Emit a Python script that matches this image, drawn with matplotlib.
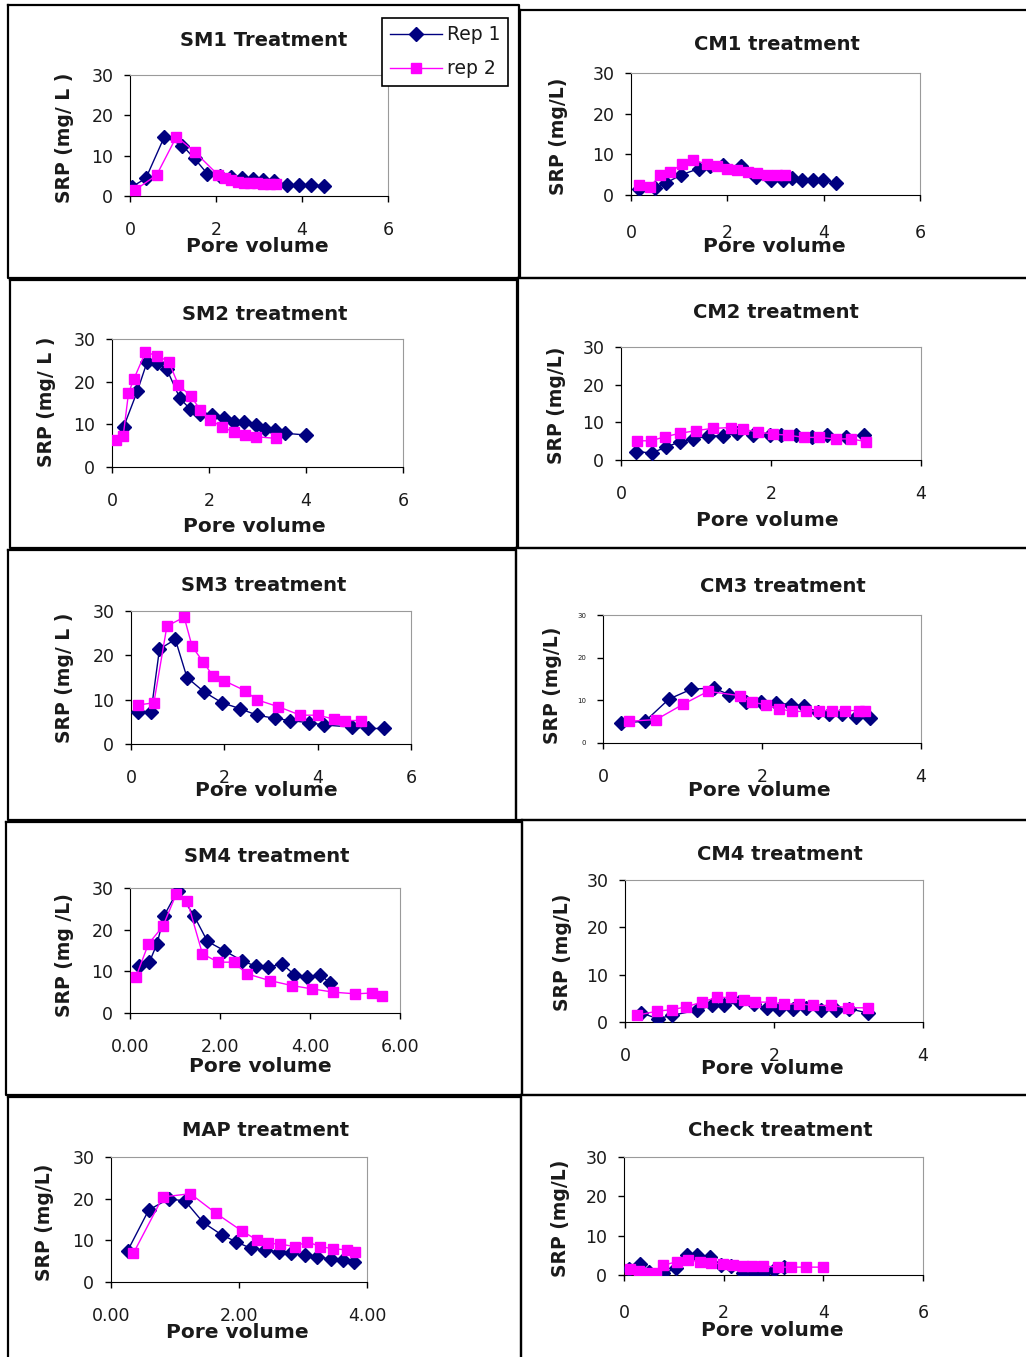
#!usr/bin/python
"""
SRP breakthrough curves, ten treatments, two reps each
"""
import matplotlib
matplotlib.use('Agg')
import matplotlib.pyplot as plt
from matplotlib.lines import Line2D

plt.rcParams['font.family'] = ['DejaVu Sans']

W, H = 1026, 1357
NAVY = '#000080'
PINK = '#ff00ff'

# ---- data (pore volume, SRP mg/L) ----
sm1_rep1_x = [0.05, 0.37, 0.8, 1.22, 1.5, 1.8, 2.1, 2.35, 2.6, 2.85, 3.1, 3.35, 3.64, 3.93, 4.2, 4.5]
sm1_rep1_y = [2.3, 4.4, 14.7, 12.5, 9.3, 5.5, 5.0, 4.6, 4.5, 4.2, 4.0, 3.8, 2.8, 2.8, 2.8, 2.5]
sm1_rep2_x = [0.12, 0.62, 1.08, 1.5, 2.05, 2.2, 2.35, 2.5, 2.65, 2.8, 2.95, 3.1, 3.25, 3.4]
sm1_rep2_y = [1.5, 5.2, 14.7, 11.0, 5.2, 4.5, 4.0, 3.5, 3.3, 3.2, 3.1, 3.0, 3.0, 3.0]

cm1_rep1_x = [0.16, 0.5, 0.72, 1.03, 1.41, 1.65, 1.9, 2.28, 2.6, 2.9, 3.15, 3.35, 3.56, 3.77, 3.98, 4.26]
cm1_rep1_y = [1.5, 1.6, 2.9, 4.9, 6.5, 7.2, 7.4, 7.1, 4.5, 3.7, 3.7, 4.1, 3.7, 3.7, 3.7, 3.0]
cm1_rep2_x = [0.16, 0.39, 0.61, 0.82, 1.06, 1.29, 1.58, 1.79, 2.0, 2.2, 2.42, 2.62, 2.83, 3.04, 3.2]
cm1_rep2_y = [2.5, 2.0, 4.9, 5.7, 7.6, 8.6, 7.6, 7.1, 6.5, 6.1, 5.7, 5.3, 4.9, 4.9, 4.9]

sm2_rep1_x = [0.24, 0.52, 0.72, 0.93, 1.13, 1.4, 1.6, 1.82, 2.06, 2.3, 2.51, 2.72, 2.96, 3.16, 3.37, 3.57, 4.0]
sm2_rep1_y = [9.4, 17.7, 24.5, 24.4, 22.9, 16.1, 13.7, 12.5, 12.2, 11.4, 10.6, 10.6, 9.8, 9.0, 8.6, 7.9, 7.5]
sm2_rep2_x = [0.09, 0.23, 0.34, 0.45, 0.69, 0.93, 1.17, 1.37, 1.62, 1.82, 2.03, 2.27, 2.51, 2.75, 2.96, 3.39]
sm2_rep2_y = [6.4, 7.2, 17.3, 20.6, 26.9, 26.1, 24.7, 19.2, 16.7, 13.4, 11.0, 9.4, 8.2, 7.5, 7.1, 6.7]

cm2_rep1_x = [0.2, 0.41, 0.6, 0.79, 0.96, 1.16, 1.36, 1.54, 1.76, 1.98, 2.13, 2.33, 2.55, 2.75, 3.0, 3.24]
cm2_rep1_y = [2.2, 1.9, 3.4, 4.9, 5.5, 6.4, 6.4, 7.1, 6.6, 6.6, 6.6, 6.6, 6.2, 6.6, 6.2, 6.6]
cm2_rep2_x = [0.21, 0.4, 0.59, 0.79, 1.0, 1.22, 1.46, 1.63, 1.82, 2.02, 2.22, 2.44, 2.64, 2.86, 3.06, 3.27]
cm2_rep2_y = [5.1, 5.1, 6.2, 7.1, 7.8, 8.4, 8.6, 8.1, 7.5, 6.9, 6.6, 6.0, 6.0, 5.6, 5.6, 4.9]

sm3_rep1_x = [0.16, 0.43, 0.61, 0.95, 1.2, 1.56, 1.95, 2.33, 2.7, 3.08, 3.41, 3.81, 4.14, 4.74, 5.08, 5.43]
sm3_rep1_y = [7.3, 7.3, 21.4, 23.6, 15.0, 11.8, 9.3, 8.0, 6.5, 5.8, 5.3, 4.8, 4.3, 3.8, 3.5, 3.5]
sm3_rep2_x = [0.16, 0.49, 0.77, 1.14, 1.31, 1.54, 1.76, 1.99, 2.45, 2.69, 3.16, 3.63, 4.0, 4.36, 4.59, 4.93]
sm3_rep2_y = [8.8, 9.3, 26.6, 28.6, 22.0, 18.6, 15.3, 14.3, 12.0, 10.0, 8.4, 6.5, 6.5, 5.6, 5.3, 5.3]

cm3_rep1_x = [0.23, 0.53, 0.83, 1.11, 1.39, 1.59, 1.8, 1.99, 2.18, 2.36, 2.53, 2.7, 2.84, 3.0, 3.18, 3.36]
cm3_rep1_y = [4.7, 5.1, 10.3, 12.6, 12.9, 11.3, 9.7, 9.7, 9.4, 9.0, 8.7, 7.2, 6.9, 6.9, 6.2, 5.8]
cm3_rep2_x = [0.33, 0.67, 1.01, 1.32, 1.72, 1.88, 2.05, 2.22, 2.38, 2.55, 2.72, 2.88, 3.05, 3.22, 3.3]
cm3_rep2_y = [5.1, 5.5, 9.1, 12.1, 11.1, 9.5, 9.0, 8.0, 7.4, 7.4, 7.6, 7.6, 7.6, 7.6, 7.4]

sm4_rep1_x = [0.21, 0.43, 0.6, 0.76, 1.06, 1.42, 1.72, 2.09, 2.48, 2.8, 3.07, 3.38, 3.65, 3.93, 4.22, 4.45]
sm4_rep1_y = [11.4, 12.2, 16.6, 23.4, 29.4, 23.4, 17.2, 15.0, 12.6, 11.2, 11.0, 11.8, 9.2, 8.6, 9.2, 7.2]
sm4_rep2_x = [0.13, 0.41, 0.73, 1.03, 1.27, 1.61, 1.96, 2.3, 2.6, 3.1, 3.59, 4.04, 4.52, 5.01, 5.38, 5.61]
sm4_rep2_y = [8.6, 16.6, 20.8, 28.6, 27.0, 14.2, 12.2, 12.2, 9.4, 7.8, 6.6, 5.8, 5.0, 4.6, 4.8, 4.2]

cm4_rep1_x = [0.22, 0.44, 0.63, 0.97, 1.17, 1.33, 1.53, 1.73, 1.91, 2.07, 2.25, 2.43, 2.63, 2.83, 3.01, 3.26]
cm4_rep1_y = [1.9, 0.7, 1.4, 2.5, 3.5, 3.5, 4.2, 3.7, 3.0, 2.8, 2.8, 3.0, 2.6, 2.6, 2.8, 1.9]
cm4_rep2_x = [0.16, 0.43, 0.63, 0.82, 1.03, 1.23, 1.42, 1.6, 1.75, 1.96, 2.13, 2.34, 2.52, 2.76, 2.99, 3.26]
cm4_rep2_y = [1.4, 2.3, 2.6, 3.2, 4.2, 5.2, 5.2, 4.6, 4.2, 4.2, 3.7, 3.9, 3.5, 3.5, 3.0, 3.0]

map_rep1_x = [0.26, 0.59, 0.91, 1.16, 1.44, 1.73, 1.95, 2.18, 2.41, 2.63, 2.81, 3.03, 3.22, 3.44, 3.63, 3.79]
map_rep1_y = [7.5, 17.3, 20.0, 19.4, 14.3, 11.3, 9.7, 8.1, 7.7, 7.2, 6.9, 6.5, 5.9, 5.6, 5.3, 4.8]
map_rep2_x = [0.35, 0.81, 1.24, 1.64, 2.04, 2.28, 2.46, 2.64, 2.87, 3.07, 3.26, 3.47, 3.68, 3.81]
map_rep2_y = [6.9, 20.4, 21.2, 16.5, 12.3, 10.1, 9.3, 9.1, 8.5, 9.7, 8.5, 8.0, 7.7, 7.3]

chk_rep1_x = [0.1, 0.32, 0.5, 0.62, 0.79, 1.05, 1.27, 1.47, 1.72, 1.95, 2.15, 2.39, 2.6, 2.79, 3.0, 3.22]
chk_rep1_y = [1.5, 2.8, 0.8, 0.0, 0.4, 1.7, 5.1, 5.1, 4.7, 2.5, 2.2, 0.4, 0.8, 0.6, 1.2, 2.0]
chk_rep2_x = [0.12, 0.31, 0.45, 0.64, 0.79, 1.07, 1.29, 1.52, 1.75, 1.99, 2.19, 2.39, 2.57, 2.79, 3.09, 3.35, 3.65, 3.99]
chk_rep2_y = [1.4, 1.1, 0.6, 0.6, 2.5, 3.4, 3.8, 3.4, 3.1, 2.8, 2.5, 2.3, 2.3, 2.3, 2.0, 2.0, 2.0, 2.0]

y_ticks = [0, 10, 20, 30]

# ---- layout in pixels: plot box (l, r, t, b), title, xlabel, ylabel centres ----
panels = [
    dict(title='SM1 Treatment', ylabel='SRP (mg/ L )', xmax=6, xfmt='{:g}',
         box=(130, 388, 75, 196), t=(264, 40), xl=(257, 247), yl=(65, 138),
         r1=(sm1_rep1_x, sm1_rep1_y), r2=(sm1_rep2_x, sm1_rep2_y)),
    dict(title='CM1 treatment', ylabel='SRP (mg/L)', xmax=6, xfmt='{:g}',
         box=(631, 920, 73, 195), t=(777, 44), xl=(774, 247), yl=(558, 136), xpad=17,
         r1=(cm1_rep1_x, cm1_rep1_y), r2=(cm1_rep2_x, cm1_rep2_y)),
    dict(title='SM2 treatment', ylabel='SRP (mg/ L )', xmax=6, xfmt='{:g}',
         box=(112, 403, 339, 467), t=(265, 314), xl=(254, 526), yl=(47, 402),
         r1=(sm2_rep1_x, sm2_rep1_y), r2=(sm2_rep2_x, sm2_rep2_y)),
    dict(title='CM2 treatment', ylabel='SRP (mg/L)', xmax=4, xfmt='{:g}',
         box=(621, 921, 347, 460), t=(776, 312), xl=(767, 520), yl=(557, 405),
         r1=(cm2_rep1_x, cm2_rep1_y), r2=(cm2_rep2_x, cm2_rep2_y)),
    dict(title='SM3 treatment', ylabel='SRP (mg/ L )', xmax=6, xfmt='{:g}',
         box=(131, 411, 611, 744), t=(264, 586), xl=(266, 790), yl=(65, 678),
         r1=(sm3_rep1_x, sm3_rep1_y), r2=(sm3_rep2_x, sm3_rep2_y)),
    dict(title='CM3 treatment', ylabel='SRP (mg/L)', xmax=4, xfmt='{:g}',
         box=(603, 921, 615, 743), t=(783, 587), xl=(759, 790), yl=(553, 685),
         r1=(cm3_rep1_x, cm3_rep1_y), r2=(cm3_rep2_x, cm3_rep2_y), ysmall=True),
    dict(title='SM4 treatment', ylabel='SRP (mg /L)', xmax=6, xfmt='{:.2f}',
         box=(130, 400, 888, 1013), t=(267, 857), xl=(260, 1066), yl=(64, 955),
         r1=(sm4_rep1_x, sm4_rep1_y), r2=(sm4_rep2_x, sm4_rep2_y)),
    dict(title='CM4 treatment', ylabel='SRP (mg/L)', xmax=4, xfmt='{:g}',
         box=(625, 923, 880, 1022), t=(780, 855), xl=(772, 1068), yl=(562, 952),
         r1=(cm4_rep1_x, cm4_rep1_y), r2=(cm4_rep2_x, cm4_rep2_y)),
    dict(title='MAP treatment', ylabel='SRP (mg/L)', xmax=4, xfmt='{:.2f}',
         box=(111, 367, 1157, 1282), t=(266, 1131), xl=(237, 1332), yl=(45, 1222),
         r1=(map_rep1_x, map_rep1_y), r2=(map_rep2_x, map_rep2_y)),
    dict(title='Check treatment', ylabel='SRP (mg/L)', xmax=6, xfmt='{:g}',
         box=(624, 923, 1157, 1275), t=(780, 1131), xl=(772, 1331), yl=(560, 1218), xpad=17,
         r1=(chk_rep1_x, chk_rep1_y), r2=(chk_rep2_x, chk_rep2_y)),
]

# panel frames (x0, y0, x1, y1) in pixels
frames = [
    (8, 5, 519, 278), (520, 10, 1030, 278),
    (10, 280, 517, 548), (518, 278, 1030, 548),
    (8, 550, 516, 820), (516, 548, 1030, 820),
    (6, 822, 522, 1095), (522, 820, 1030, 1095),
    (8, 1097, 521, 1362), (521, 1095, 1030, 1362),
]

TXT = '#1a1a1a'


def fx(px):
    return px / W


def fy(py):
    return 1 - py / H


def draw_panel(fig, p):
    l, r, t, b = p['box']
    ax = fig.add_axes([fx(l), fy(b), (r - l) / W, (b - t) / H])
    ax.plot(*p['r1'], color=NAVY, lw=1.0, marker='D', ms=7, mfc=NAVY, mec=NAVY, label='Rep 1', zorder=3)
    ax.plot(*p['r2'], color=PINK, lw=1.0, marker='s', ms=7.5, mfc=PINK, mec=PINK, label='rep 2', zorder=4)
    ax.set_xlim(0, p['xmax'])
    ax.set_ylim(0, 30)
    xt = list(range(0, p['xmax'] + 1, 2))
    ax.set_xticks(xt)
    ax.set_xticklabels([p['xfmt'].format(v) for v in xt])
    ax.set_yticks(y_ticks)
    ax.tick_params(axis='x', direction='out', length=4, width=1, pad=p.get('xpad', 14),
                   labelsize=12.5, labelcolor=TXT)
    ax.tick_params(axis='y', direction='out', length=4, width=1, pad=8,
                   labelsize=5 if p.get('ysmall') else 12.5, labelcolor=TXT)
    for side in ['top', 'right']:
        ax.spines[side].set_color('#9a9a9a')
    for side in ['left', 'bottom']:
        ax.spines[side].set_color('black')
    ax.set_facecolor('white')
    fig.text(fx(p['t'][0]), fy(p['t'][1]), p['title'], ha='center', va='center',
             fontsize=14, fontweight='bold', color=TXT)
    fig.text(fx(p['xl'][0]), fy(p['xl'][1]), 'Pore volume', ha='center', va='center',
             fontsize=14.5, fontweight='bold', color=TXT)
    fig.text(fx(p['yl'][0]), fy(p['yl'][1]), p['ylabel'], ha='center', va='center',
             rotation=90, fontsize=13.5, fontweight='bold', color=TXT)
    return ax


def main():
    fig = plt.figure(figsize=(W / 100, H / 100), dpi=100)
    fig.patch.set_facecolor('white')

    for x0, y0, x1, y1 in frames:
        xs = [fx(x0), fx(x1), fx(x1), fx(x0), fx(x0)]
        ys = [fy(y0), fy(y0), fy(y1), fy(y1), fy(y0)]
        fig.add_artist(Line2D(xs, ys, color='black', lw=1.6, transform=fig.transFigure))

    axes = [draw_panel(fig, p) for p in panels]

    leg = axes[0].legend(loc='upper left', bbox_to_anchor=(fx(382), fy(18)),
                         bbox_transform=fig.transFigure, fancybox=False, framealpha=1,
                         edgecolor='black', fontsize=13.5, handlelength=2.8,
                         labelspacing=0.8, borderpad=0.4, handletextpad=0.25,
                         borderaxespad=0)
    leg.get_frame().set_linewidth(1.2)
    for txt in leg.get_texts():
        txt.set_color(TXT)

    fig.savefig('out.png', dpi=100)


if __name__ == '__main__':
    main()
